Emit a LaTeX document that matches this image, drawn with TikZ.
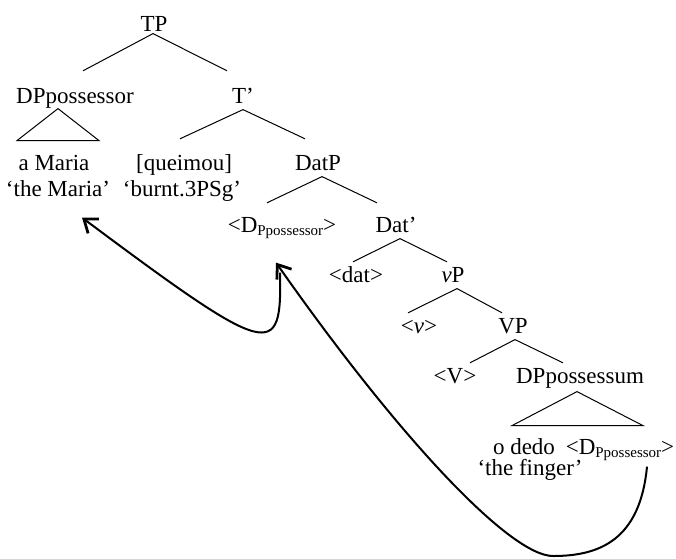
\documentclass[tikz,border=0pt]{standalone}
\usepackage{fontspec}
\setmainfont{Liberation Serif}
\usepackage{tikz}
\usetikzlibrary{arrows.meta,positioning,calc}

% trace of the possessor
\newcommand{\possdp}{\textless D\raisebox{-3pt}{\fontsize{15}{15}\selectfont Ppossessor}\textgreater}

\begin{document}
\begin{tikzpicture}[x=1pt, y=-1pt, font=\fontsize{23}{27}\selectfont,
    word/.style={anchor=base, inner sep=2pt, text height=15.4pt, text depth=4.4pt},
    branch/.style={line width=1pt},
    move/.style={line width=2pt, -{Straight Barb[length=12pt,width=18pt,line width=2.8pt]}}]
        \useasboundingbox (0,0) rectangle (676,558);

        % TP and subject
        \node [word] (tp) at (154,31) {TP};
        \node [word] (dposs) at (75,103) {DPpossessor};
        \node [word] (tbar) at (243,103) {T'};
        \draw [branch] ([shift={(-1,-4)}]tp.south) -- ([shift={(8,-14.6)}]dposs.north);
        \draw [branch] ([shift={(-1,-4)}]tp.south) -- ([shift={(-16,-14.6)}]tbar.north);
        \draw [branch] ([shift={(-17,-1)}]dposs.south) -- ++(-41,32) -- ++(82,0) -- cycle;
        \node [word] (amaria) at (54,170) {a Maria};
        \node [word] (amgloss) at (58,196) {`the Maria'};

        % verb
        \node [word] (queimou) at (184,170) {[queimou]};
        \node [word] (burnt) at (182,196) {`burnt.3PSg'};
        \node [word] (datp) at (318,170) {DatP};
        \draw [branch] (tbar.south) -- ([shift={(-4,-13.6)}]queimou.north);
        \draw [branch] (tbar.south) -- ([shift={(-13,-13.6)}]datp.north);

        % Dative layer
        \node [word] (dup) at (282,232) {\possdp};
        \node [word] (datbar) at (396,232) {Dat'};
        \draw [branch] ([shift={(4,0)}]datp.south) -- ([shift={(-15,-11.6)}]dup.north);
        \draw [branch] ([shift={(4,0)}]datp.south) -- ([shift={(-19,-11.6)}]datbar.north);
        \node [word] (dat) at (356,282) {\textless dat\textgreater};
        \node [word] (vp) at (453,282) {\textit{v}P};
        \draw [branch] ([shift={(4,0)}]datbar.south) -- ([shift={(-3,-2.6)}]dat.north);
        \draw [branch] ([shift={(4,0)}]datbar.south) -- ([shift={(-6,-2.6)}]vp.north);

        % vP and VP
        \node [word] (vlow) at (419,333) {\textless\textit{v}\textgreater};
        \node [word] (vpcap) at (513,333) {VP};
        \draw [branch] ([shift={(4,0)}]vp.south) -- ([shift={(-11,-2.6)}]vlow.north);
        \draw [branch] ([shift={(4,0)}]vp.south) -- ([shift={(-11,-2.6)}]vpcap.north);
        \node [word] (vhead) at (455,383) {\textless V\textgreater};
        \node [word] (dpossum) at (580,383) {DPpossessum};
        \draw [branch] ([shift={(2,0)}]vpcap.south) -- ([shift={(15,-2.6)}]vhead.north);
        \draw [branch] ([shift={(2,0)}]vpcap.south) -- ([shift={(-17,-2.6)}]dpossum.north);

        % Possessum
        \draw [branch] ([shift={(-3,2)}]dpossum.south) -- ++(-65,34) -- ++(131,0) -- cycle;
        \node [word] (odedo) at (524,454) {o dedo};
        \node [word] (finger) at (530,475) {`the finger'};
        \node [word] (dlow) at (620,454) {\possdp};

        % Movement arrows
        \coordinate (turn) at (553,556);
        \draw [move] ([shift={(27,6)}]dlow.south) .. controls +(-7,73) and +(47,0) .. (turn)
            .. controls +(-43,0) and +(122,174) .. ([shift={(-6,24)}]dup.south);
        \draw [move] ([shift={(-2,34)}]dup.south) .. controls +(2,88) and +(189,141) .. ([shift={(24,15)}]amgloss.south);
    \end{tikzpicture}
\end{document}
